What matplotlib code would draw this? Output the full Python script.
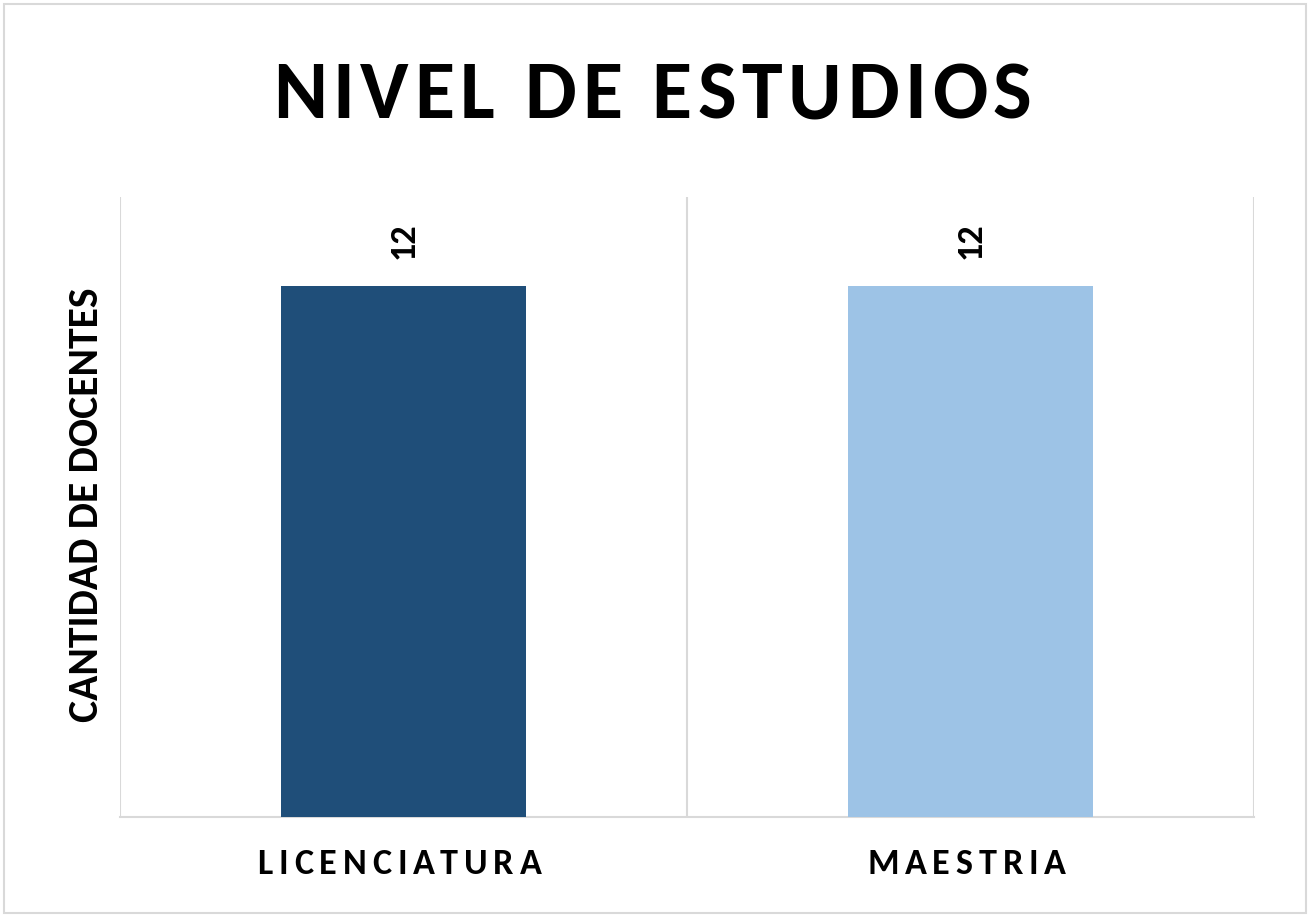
import matplotlib
matplotlib.use("Agg")
import matplotlib.pyplot as plt
from matplotlib.patches import Rectangle
from matplotlib.transforms import IdentityTransform

plt.rcParams["font.family"] = ["Carlito", "DejaVu Sans"]
plt.rcParams["font.weight"] = "bold"

# datos
categorias = ["LICENCIATURA", "MAESTRIA"]
docentes = [12, 12]
colores = ["#1F4E79", "#9DC3E6"]
titulo = "NIVEL DE ESTUDIOS"
etiqueta_y = "CANTIDAD DE DOCENTES"

W, H = 1310, 921
fig = plt.figure(figsize=(W / 100, H / 100), dpi=100)
renderer = fig.canvas.get_renderer()


def ancho(s, size):
    t = fig.text(0, 0, s, fontsize=size, fontweight="bold")
    w = t.get_window_extent(renderer).width
    t.remove()
    return w


def texto_espaciado(cx, y, s, size, track):
    # texto con espaciado entre letras (pixeles), centrado en cx
    total = ancho(s, size) + track * (len(s) - 1)
    x0 = cx - total / 2
    for i, ch in enumerate(s):
        if ch == " ":
            continue
        izq = ancho(s[:i + 1], size) - ancho(ch, size)
        fig.text(x0 + izq + track * i, y, ch, fontsize=size, fontweight="bold",
                 ha="left", va="baseline", transform=IdentityTransform())


ax = fig.add_axes([120 / W, 1 - 817 / H, (1254 - 120) / W, (817 - 197) / H])

x = list(range(len(categorias)))
bars = ax.bar(x, docentes, width=0.433, color=colores, zorder=3)
ax.set_xlim(-0.5, len(categorias) - 0.5)
ax.set_ylim(0, 14)

# lineas verticales entre categorias
for xv in [i - 0.5 for i in range(len(categorias) + 1)]:
    ax.axvline(xv, color="#D9D9D9", linewidth=1.5, zorder=1)
for s in ["top", "right", "left"]:
    ax.spines[s].set_visible(False)
ax.spines["bottom"].set_color("#D9D9D9")
ax.spines["bottom"].set_linewidth(1.5)
ax.set_yticks([])
ax.set_xticks(x)
ax.set_xticklabels([])
ax.tick_params(axis="x", length=0)

for b, v in zip(bars, docentes):
    ax.annotate(str(v), (b.get_x() + b.get_width() / 2, v), xytext=(0, 19),
                textcoords="offset points", ha="center", va="bottom",
                rotation=90, fontsize=26, fontweight="bold")

# etiquetas de categorias con espaciado
for xi, cat in zip(x, categorias):
    px = ax.transData.transform((xi, 0))[0]
    texto_espaciado(px - 4, H - 874, cat, 26, 5.8)

texto_espaciado(0.498 * W, H - 118, titulo, 59, 5.6)

fig.text(87 / W, 1 - 505 / H, etiqueta_y, ha="center", va="center",
         rotation=90, fontsize=30, fontweight="bold")

# borde del grafico
fig.patches.append(Rectangle((4 / W, 1 - 913 / H), 1302 / W, 909 / H,
                             transform=fig.transFigure, fill=False,
                             edgecolor="#D9D9D9", linewidth=1.5))

fig.savefig("out.png")
